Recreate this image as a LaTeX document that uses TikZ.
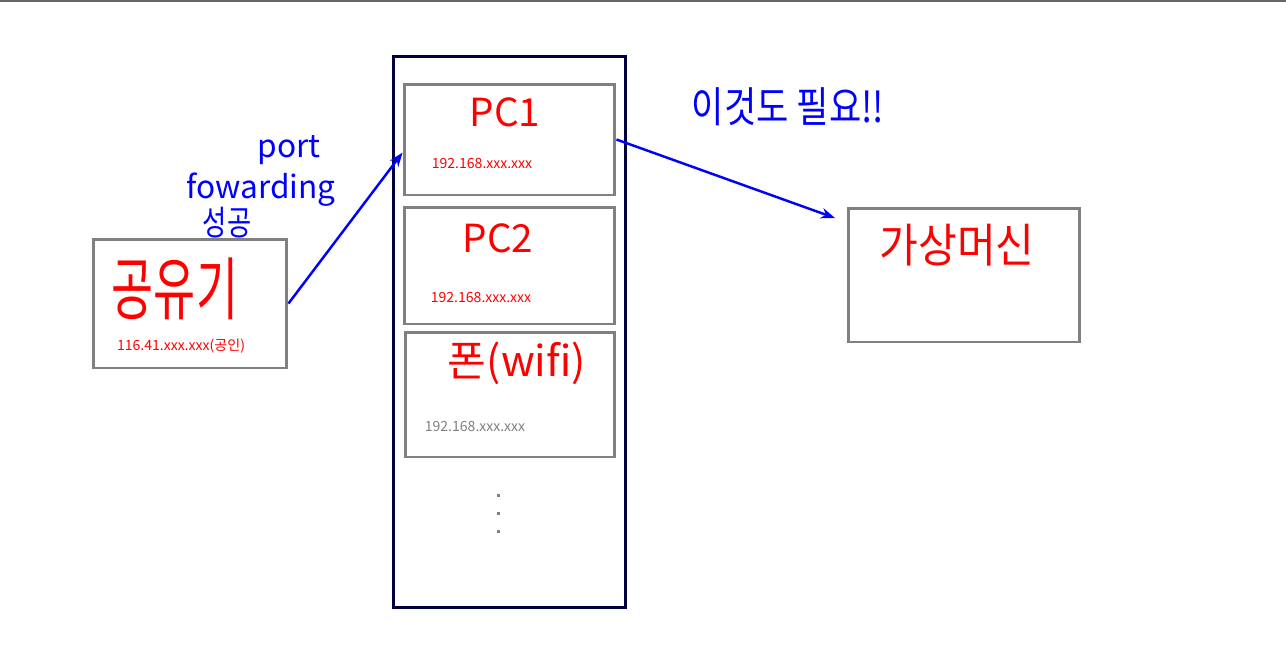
\documentclass[tikz,border=0pt]{standalone}
\usepackage{fontspec}
\setmainfont{Noto Sans CJK KR}
\usetikzlibrary{arrows.meta}
\definecolor{boxgray}{HTML}{808080}
\definecolor{framenavy}{HTML}{00003C}
\definecolor{penred}{HTML}{FF0000}
\definecolor{penblue}{HTML}{0000FF}
\tikzset{
  box/.style={draw=boxgray, line width=1.7pt, inner sep=0pt},
  hand/.style={text=penred, inner sep=0pt},
  note/.style={text=penblue, inner sep=0pt},
  addr/.style={text=penred, inner sep=0pt, font=\fontsize{8}{9}\selectfont},
  link/.style={draw=penblue, line width=1.4pt, -{Stealth[length=8pt,width=6pt]}}
}
\begin{document}
\begin{tikzpicture}[x=0.02cm, y=-0.02cm]
\useasboundingbox (0,0) rectangle (1286,657);
\draw[boxgray!80!black, line width=1.2pt] (0,0.6) -- (1286,0.6);
% boxes
\node[box, minimum width=3.88cm, minimum height=2.58cm] (router) at (190,303.5){};
\node[draw=framenavy, line width=1.7pt, inner sep=0pt, minimum width=4.66cm, minimum height=11.04cm] (lan) at (509.5,332){};
\node[box, minimum width=4.22cm, minimum height=2.22cm] (pc1) at (509.5,139.5){};
\node[box, minimum width=4.22cm, minimum height=2.34cm] (pc2) at (509.5,265.5){};
\node[box, minimum width=4.2cm, minimum height=2.5cm] (phone) at (510,394.5){};
\node[box, minimum width=4.64cm, minimum height=2.68cm] (vm) at (964,275){};
% texts
\node[hand, font=\fontsize{26}{28}\selectfont] (routerlbl) at (175,289){\scalebox{1}[1.5]{공유기}};
\node[addr] (routerip) at (181,346){116.41.xxx.xxx(공인)};
\node[hand, font=\fontsize{22}{24}\selectfont] (pc1lbl) at (505,112){PC1};
\node[addr] (pc1ip) at (482,163){192.168.xxx.xxx};
\node[hand, font=\fontsize{22}{24}\selectfont] (pc2lbl) at (498,238){PC2};
\node[addr] (pc2ip) at (481,297){192.168.xxx.xxx};
\node[hand, font=\fontsize{24}{26}\selectfont] (phonelbl) at (517,363){폰(wifi)};
\node[addr, text=boxgray] (phoneip) at (475,426){192.168.xxx.xxx};
\node[hand, font=\fontsize{24}{26}\selectfont] (vmlbl) at (957,245){\scalebox{1}[1.1]{가상머신}};
\node[note, font=\fontsize{18}{20}\selectfont] (pfa) at (289,150){port};
\node[note, font=\fontsize{18}{20}\selectfont] (pfb) at (261,190){fowarding};
\node[note, font=\fontsize{15}{17}\selectfont] (pfc) at (227,223){\scalebox{1}[1.3]{성공}};
\node[note, font=\fontsize{20}{22}\selectfont] (need) at (788,107){\scalebox{1}[1.2]{이것도 필요!!}};
\foreach \d in {495,513,531}
  \fill[boxgray] (496.5,\d-1.5) rectangle (499.5,\d+1.5);
% arrows
\coordinate (vmtip) at (835,218);
\draw[link](router.east) -- (pc1.187);
\draw[link](pc1.east) -- (vmtip);
\end{tikzpicture}
\end{document}
